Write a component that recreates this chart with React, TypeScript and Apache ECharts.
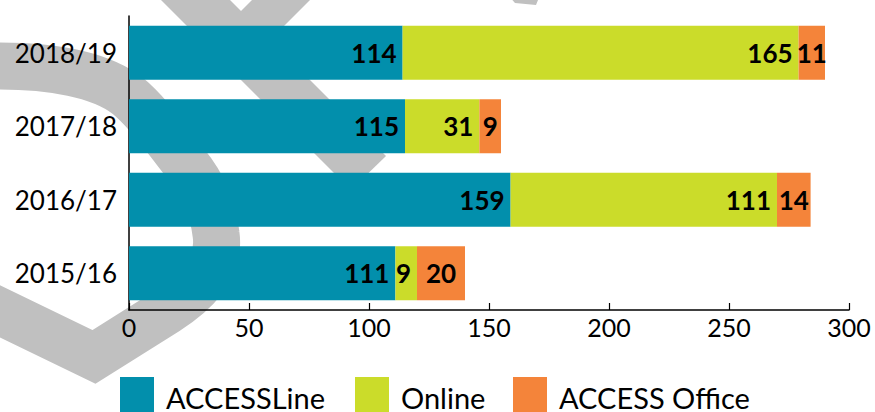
import React, { useEffect, useRef } from "react";
import * as echarts from "echarts";

const categories = ["2015/16", "2016/17", "2017/18", "2018/19"];
const accessLine = [111, 159, 115, 114];
const online = [9, 111, 31, 165];
const accessOffice = [20, 14, 9, 11];
const seriesNames = ["ACCESSLine", "Online", "ACCESS Office"];
const seriesColors = ["#028fac", "#cbdc2a", "#f4843a"];
const xMin = 0;
const xMax = 300;
const xInterval = 50;

const WATERMARK_D =
  "M -50 287 L 94 357 L 167 311 C 205 287 220 262 216 234 C 213 208 204 186 186 164 C 168 142 150 114 128 96 C 100 74 50 66 0 66 L -50 66";

let registered = false;
function ensureShape() {
  if (registered) return;
  echarts.graphic.registerShape("wmcurve", echarts.graphic.extendPath(WATERMARK_D, {}) as any);
  registered = true;
}

const GREY = "#c0c0c0";
const FONT = "Lato";

export default function App() {
  const ref = useRef<HTMLDivElement>(null);
  useEffect(() => {
    if (!ref.current) return;
    ensureShape();
    const chart = echarts.init(ref.current, null, { renderer: "svg" });
    const dataSets = [accessLine, online, accessOffice];
    const legendLefts = [120, 355, 513];
    const labelPositions = ["insideRight", "insideRight", "inside"];
    chart.setOption({
      animation: false,
      backgroundColor: "#ffffff",
      graphic: {
        elements: [
          {
            type: "wmcurve",
            x: 0,
            y: 0,
            z: -100,
            silent: true,
            style: { fill: "none", stroke: GREY, lineWidth: 47, lineJoin: "miter" },
          },
          {
            type: "polygon",
            z: -100,
            silent: true,
            shape: { points: [[141, -20], [210, -20], [386, 156], [351, 190]] },
            style: { fill: GREY },
          },
          {
            type: "polygon",
            z: -100,
            silent: true,
            shape: { points: [[272, -20], [330, -20], [250, 60], [192, 60]] },
            style: { fill: GREY },
          },
          {
            type: "polygon",
            z: -100,
            silent: true,
            shape: { points: [[508, -5], [540, -5], [536, 5], [515, 3]] },
            style: { fill: GREY },
          },
        ],
      },
      grid: { left: 129, right: 26, top: 16, bottom: 102, containLabel: false },
      xAxis: {
        type: "value",
        min: xMin,
        max: xMax,
        interval: xInterval,
        splitLine: { show: false },
        axisLine: { show: true, lineStyle: { color: "#000", width: 1.5 } },
        axisTick: { show: true, inside: true, length: 7, lineStyle: { color: "#000", width: 1.2 } },
        axisLabel: { color: "#000", fontFamily: FONT, fontSize: 25, margin: 4 },
      },
      yAxis: {
        type: "category",
        data: categories,
        axisLine: { show: true, lineStyle: { color: "#000", width: 1.5 } },
        axisTick: { show: false },
        axisLabel: { color: "#000", fontFamily: FONT, fontSize: 26, margin: 12 },
      },
      legend: seriesNames.map((n, i) => ({
        data: [n],
        left: legendLefts[i],
        top: 377,
        padding: 0,
        itemGap: 0,
        itemWidth: 34,
        itemHeight: 35,
        icon: "rect",
        selectedMode: false,
        formatter: "{t|{name}}",
        textStyle: {
          color: "#000",
          fontFamily: FONT,
          fontSize: 29,
          rich: {
            t: { color: "#000", fontFamily: FONT, fontSize: 29, padding: [6, 0, 0, 7] },
          },
        },
      })),
      series: seriesNames.map((n, i) => ({
        name: n,
        type: "bar",
        stack: "total",
        barCategoryGap: "26.5%",
        data: dataSets[i],
        itemStyle: { color: seriesColors[i] },
        label: {
          show: true,
          position: labelPositions[i],
          distance: 6,
          color: "#000",
          fontFamily: FONT,
          fontWeight: "bold",
          fontSize: 26,
        },
      })),
    });
    return () => chart.dispose();
  }, []);
  return (
    <div
      ref={ref}
      style={{ position: "absolute", left: 0, top: 0, width: 875, height: 412 }}
    />
  );
}
